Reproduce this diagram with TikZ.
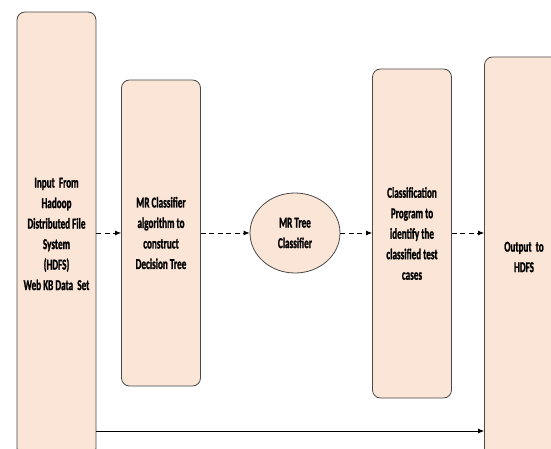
\documentclass[tikz,border=0pt]{standalone}
\usepackage{fontspec}
\setmainfont{Carlito}[FakeStretch=0.61, BoldFeatures={FakeBold=1.2}]
\usepackage{tikz}
\usetikzlibrary{shapes,arrows.meta,positioning}
\usepackage{xcolor}
\definecolor{peach}{HTML}{FBE5D6}
\definecolor{edgegray}{HTML}{4A4A4A}

\begin{document}
\begin{tikzpicture}[x=1pt,y=-1pt,
  stagebox/.style={draw=edgegray, fill=peach, line width=0.8pt, rounded corners=8pt,
    minimum width=79pt, align=center, inner sep=2pt,
    font=\fontsize{15}{20.5}\selectfont\bfseries},
  stageoval/.style={draw=edgegray, fill=peach, line width=0.8pt, ellipse,
    minimum width=90pt, minimum height=80pt, inner sep=0pt, align=center,
    font=\fontsize{15}{20.5}\selectfont\bfseries},
  flow/.style={dash pattern=on 5pt off 3.5pt, line width=0.8pt, -{Latex[length=6pt,width=5pt]}},
  feed/.style={line width=0.8pt, -{Latex[length=6pt,width=5pt]}}]

% Fix the page size
\useasboundingbox (0,0) rectangle (551,449);
\clip (0,0) rectangle (551,449);

% Draw the stages
\node[stagebox, minimum height=444pt] (input) at (56.5,234) {Input~~From\\Hadoop\\Distributed File\\System\\(HDFS)\\Web KB Data~~Set};
\node[stagebox, minimum height=306pt] (build) at (161,233) {MR Classifier\\algorithm to\\construct\\Decision Tree};
\node[stageoval] (tree) at (295,233) {MR Tree\\Classifier};
\node[stagebox, minimum height=329pt] (classify) at (412,233.5) {Classification\\Program to\\identify the\\classified test\\cases};
\node[stagebox, minimum height=400pt] (output) at (524,257) {Output~~to\\HDFS};

% Dashed flow between the stages
\draw[flow] (input.east |- tree) -- (build.west |- tree);
\draw[flow] (build.east |- tree) -- (tree.west);
\draw[flow] (tree.east) -- (classify.west |- tree);
\draw[flow] (classify.east |- tree) -- (output.west |- tree);

% Direct path from input to output
\coordinate (direct) at (0,431);
\draw[feed] (input.east |- direct) -- (output.west |- direct);

\end{tikzpicture}
\end{document}
